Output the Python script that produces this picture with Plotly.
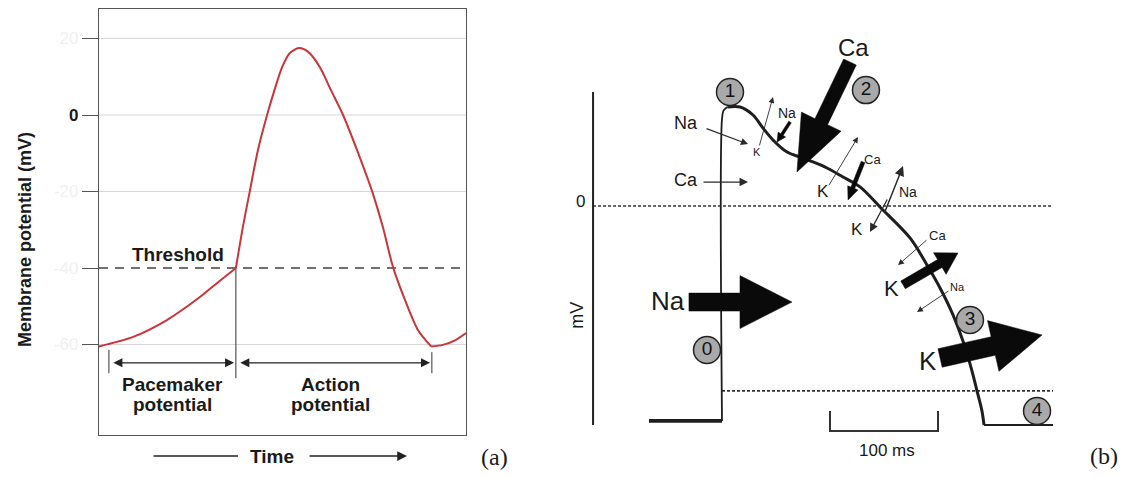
import plotly.graph_objects as go

# ---------------- Panel (a): pacemaker-cell action potential ----------------
# time in arbitrary units (0..100), membrane potential in mV
pm_time = [0, 9.3, 18.5, 27.5, 32.2, 37.3]
pm_mv = [-60.5, -58.0, -53.6, -47.6, -43.9, -40.0]
ap_time = [37.3, 39.2, 41.1, 43.3, 45.8, 48.0, 49.9, 52.0, 54.5, 57.0, 60.2,
           63.2, 66.5, 70.6, 74.4, 77.4, 80.1, 83.4, 86.9, 90.5]
ap_mv = [-40.0, -29.3, -19.9, -9.2, 0.0, 7.1, 12.5, 16.2, 17.5, 16.5, 12.5,
         6.5, 0.0, -9.9, -19.9, -29.5, -39.7, -48.4, -56.2, -60.5]
rec_time = [90.5, 93.7, 97.0, 100]
rec_mv = [-60.5, -60.1, -58.9, -57.0]
a_ticks = [20, 0, -20, -40, -60]
a_ticktext = ['20', '0', '-20', '-40', '-60']
a_grid = [20, 0, -20, -60]
threshold_mv = -40
threshold_time = 37.3
pm_start, ap_end = 2.7, 90.7

# ---------------- Panel (b): ventricular action potential ----------------
# time in ms (0 = upstroke), membrane potential in mV
rest_left_t = [-67.6, 0]
rest_left_mv = [-88.8, -88.8]
up_t = [0, 0, 1.5, 5.0]
up_mv = [-88.8, 36.0, 39.5, 40.9]
plat_t = [5.0, 16.7, 28.7, 38.0, 47.2, 60.2, 72.2, 84.3, 97.2, 112.0, 127.8,
          146.3, 174.1, 189.8, 201.9, 213.9, 223.1, 231.5, 236.1, 240.7, 242.6]
plat_mv = [40.9, 40.9, 37.6, 32.2, 27.3, 22.3, 20.2, 18.2, 15.7, 12.0, 7.9,
           -0.4, -13.2, -24.4, -33.9, -45.0, -55.8, -68.2, -76.4, -84.7, -90.5]
rest_right_t = [242.6, 306.5]
rest_right_mv = [-90.5, -90.5]
zero_line_t = [-119.4, 306.5]
thr_line_t = [0, 306.5]
thr_line_mv = -76.4
scale_bar_ms = [100, 200]
phase_labels = ['0', '1', '2', '3', '4']
phase_t = [-13.9, 7.4, 133.3, 229.6, 291.7]
phase_mv = [-59.5, 47.1, 47.9, -47.1, -84.7]

# ---------------- layout geometry ----------------
W, H = 1134, 478
A_X = [99, 466]      # px of frame (a)
A_Y = [9, 435]
A_XR = [0, 100]
A_YR = [(115 - 435) / 3.825, (115 - 9) / 3.825]
B_XPX = [560, 1134]
B_XR = [(560 - 722) / 1.08, (1134 - 722) / 1.08]
B_YR = [(206 - 478) / 2.42, (206 - 0) / 2.42]
SX = (B_XPX[1] - B_XPX[0]) / (B_XR[1] - B_XR[0])
SY = H / (B_YR[1] - B_YR[0])

RED = '#c9353a'
INK = '#1e1e1e'
FA = 'Liberation Sans, Arial, sans-serif'
FB = 'Liberation Sans, Arial, sans-serif'
FS = 'Liberation Serif, Times New Roman, serif'

fig = go.Figure()

# ----- panel (a) traces -----
for g in a_grid:
    fig.add_trace(go.Scatter(x=A_XR, y=[g, g], mode='lines',
                             line=dict(color='#d6d6d6', width=1),
                             xaxis='x', yaxis='y', hoverinfo='skip'))
fig.add_trace(go.Scatter(x=A_XR, y=[threshold_mv] * 2, mode='lines',
                         line=dict(color='#444', width=1.3, dash='9px,7px'),
                         xaxis='x', yaxis='y'))
fig.add_trace(go.Scatter(x=[threshold_time] * 2, y=[threshold_mv, -68.8], mode='lines',
                         line=dict(color='#333', width=1), xaxis='x', yaxis='y'))
fig.add_trace(go.Scatter(x=[pm_start] * 2, y=[-61.4, -67.5], mode='lines',
                         line=dict(color='#333', width=1), xaxis='x', yaxis='y'))
fig.add_trace(go.Scatter(x=[ap_end] * 2, y=[-62.0, -67.5], mode='lines',
                         line=dict(color='#333', width=1), xaxis='x', yaxis='y'))
for xs, ys in [(pm_time, pm_mv), (ap_time, ap_mv), (rec_time, rec_mv)]:
    fig.add_trace(go.Scatter(x=xs, y=ys, mode='lines',
                             line=dict(color=RED, width=2, shape='spline', smoothing=0.8),
                             xaxis='x', yaxis='y'))

# ----- panel (b) traces -----
def bline(xs, ys, w, dash=None, color=INK, shape='linear'):
    fig.add_trace(go.Scatter(x=xs, y=ys, mode='lines',
                             line=dict(color=color, width=w, dash=dash, shape=shape,
                                       smoothing=0.9),
                             xaxis='x2', yaxis='y2', cliponaxis=False))

bline(zero_line_t, [0, 0], 1.6, dash='3px,2px', color='#333')
bline(thr_line_t, [thr_line_mv] * 2, 1.6, dash='3px,2px', color='#333')
bline([-119.4, -119.4], [47.1, -90.5], 2, color='#222')
bline([scale_bar_ms[0], scale_bar_ms[0], scale_bar_ms[1], scale_bar_ms[1]],
      [-84.7, -93.0, -93.0, -84.7], 2, color='#333')
bline(rest_left_t, rest_left_mv, 3.6)
bline(up_t, up_mv, 1.8, shape='spline')
bline(plat_t, plat_mv, 3.0, shape='spline')
bline(rest_right_t, rest_right_mv, 2.2)


def fat_arrow(tail, tip, shaft, head_w, head_l):
    x0, y0 = tail[0] * SX, tail[1] * SY
    x1, y1 = tip[0] * SX, tip[1] * SY
    dx, dy = x1 - x0, y1 - y0
    L = (dx * dx + dy * dy) ** 0.5
    ux, uy = dx / L, dy / L
    nx, ny = -uy, ux
    bx, by = x1 - ux * head_l, y1 - uy * head_l
    pts = [(x0 + nx * shaft / 2, y0 + ny * shaft / 2),
           (bx + nx * shaft / 2, by + ny * shaft / 2),
           (bx + nx * head_w / 2, by + ny * head_w / 2),
           (x1, y1),
           (bx - nx * head_w / 2, by - ny * head_w / 2),
           (bx - nx * shaft / 2, by - ny * shaft / 2),
           (x0 - nx * shaft / 2, y0 - ny * shaft / 2)]
    pts.append(pts[0])
    fig.add_trace(go.Scatter(x=[p[0] / SX for p in pts], y=[p[1] / SY for p in pts],
                             mode='lines', fill='toself', fillcolor='#0a0a0a',
                             line=dict(width=0.5, color='#0a0a0a'),
                             xaxis='x2', yaxis='y2', cliponaxis=False))

# big ion-current arrows (tail, tip in ms / mV)
fat_arrow((118.5, 59.5), (69.4, 14.0), 14, 44, 56)     # Ca influx
fat_arrow((-30.6, -39.7), (64.8, -39.7), 18, 53, 52)   # Na influx
fat_arrow((201.9, -62.8), (296.3, -53.3), 19, 52, 50)  # K efflux (phase 3)
fat_arrow((167.6, -32.6), (218.5, -19.4), 9, 25, 21)   # K efflux (phase 2/3)
fat_arrow((130.6, 18.2), (116.7, 2.5), 4, 11, 13)      # small Ca
fat_arrow((63.0, 34.7), (50.9, 26.4), 3, 9, 9)         # small Na

# phase markers
fig.add_trace(go.Scatter(x=phase_t, y=phase_mv, mode='markers+text', text=phase_labels,
                         textposition='middle center',
                         textfont=dict(family=FB, size=19, color='#111'),
                         marker=dict(size=27, color='#a9a9a9',
                                     line=dict(color='#222', width=1.5)),
                         xaxis='x2', yaxis='y2', cliponaxis=False))

annotations = []

def thin_arrow(tail, tip, w=1.1):
    annotations.append(dict(x=tip[0], y=tip[1], ax=tail[0], ay=tail[1],
                            xref='x2', yref='y2', axref='x2', ayref='y2', text='',
                            showarrow=True, arrowhead=2, arrowsize=1.3,
                            arrowwidth=w, arrowcolor='#2a2a2a'))

thin_arrow((-15.7, 32.2), (24.1, 25.6))      # Na
thin_arrow((-18.5, 9.9), (24.1, 9.9), 1.3)   # Ca
thin_arrow((34.3, 24.4), (47.2, 45.0), 0.9)  # K out
thin_arrow((98.1, 7.9), (125.9, 28.5), 0.9)  # K out
thin_arrow((150.0, -3.3), (167.6, 16.5), 1.5)  # Na
thin_arrow((153.7, 3.3), (137.0, -10.7), 1.3)  # K
thin_arrow((190.7, -13.6), (163.0, -24.4), 0.9)  # Ca
thin_arrow((211.1, -34.7), (180.6, -43.8), 0.9)  # Na

def btext(t, x, y, size, angle=0, font=FB):
    annotations.append(dict(x=x, y=y, xref='x2', yref='y2', text=t, showarrow=False,
                            textangle=angle, xanchor='center', yanchor='middle',
                            font=dict(family=font, size=size, color='#1a1a1a')))

btext('Ca', 121.3, 65.7, 24)
btext('Na', -33.3, 34.3, 18)
btext('K', 32.4, 22.3, 11)
btext('Na', 60.2, 38.4, 14)
btext('Ca', -33.3, 10.7, 18)
btext('K', 93.5, 5.8, 17)
btext('Ca', 139.8, 19.4, 13)
btext('Na', 172.2, 5.8, 14)
btext('K', 125.0, -9.9, 17)
btext('Ca', 199.1, -12.0, 13)
btext('K', 157.4, -33.9, 22)
btext('Na', 217.6, -33.5, 11)
btext('Na', -50.0, -39.3, 26)
btext('K', 190.7, -64.0, 26)
btext('0', -130.6, 1.8, 17)
btext('mV', -134.3, -45.0, 18, angle=-90)
btext('100 ms', 152.8, -101.2, 17)

# ----- panel (a) annotations -----
def a_arrow(tail, tip, side='end', head=2, w=1.2):
    annotations.append(dict(x=tip[0], y=tip[1], ax=tail[0], ay=tail[1],
                            xref='x', yref='y', axref='x', ayref='y', text='',
                            showarrow=True, arrowhead=head, startarrowhead=head,
                            arrowside=side, arrowsize=1.5, startarrowsize=1.5,
                            arrowwidth=w, arrowcolor='#222'))

a_arrow((3.5, -64.8), (36.8, -64.8), side='end+start')
a_arrow((38.1, -64.8), (90.2, -64.8), side='end+start')

def ptext(t, px, py, size, family=FA, angle=0):
    annotations.append(dict(x=px / W, y=1 - py / H, xref='paper', yref='paper', text=t,
                            showarrow=False, xanchor='center', yanchor='middle',
                            textangle=angle, font=dict(family=family, size=size,
                                                       color='#1a1a1a')))

ptext('<b>Threshold</b>', 178, 254, 19)
ptext('<b>Pacemaker</b>', 172, 384, 19)
ptext('<b>potential</b>', 172, 404, 19)
ptext('<b>Action</b>', 330, 384, 19)
ptext('<b>potential</b>', 330, 404, 19)

# "Time" axis label with its arrow (below the frame, paper coordinates)
TY = 1 - 456 / H
ptext('<b>Time</b>', 272, 456, 19)
annotations.append(dict(x=238 / W, y=TY, xref='paper', yref='paper', text='',
                        showarrow=True, arrowhead=0, ax=-(238 - 152), ay=0,
                        arrowwidth=1.3, arrowcolor='#222'))
annotations.append(dict(x=407 / W, y=TY, xref='paper', yref='paper', text='',
                        showarrow=True, arrowhead=2, arrowsize=1.5, ax=-(407 - 308), ay=0,
                        arrowwidth=1.3, arrowcolor='#222'))

ptext('<b>Membrane potential (mV)</b>', 25, 240, 18, angle=-90)
ptext('(a)', 494, 457, 24, family=FS)
ptext('(b)', 1104, 456, 24, family=FS)

ticktext = ['<b>%s</b>' % t if t == '0' else
            '<span style="color:#f0f0f0">%s</span>' % t for t in a_ticktext]

fig.update_layout(
    width=W, height=H, margin=dict(l=0, r=0, t=0, b=0),
    paper_bgcolor='white', plot_bgcolor='white', showlegend=False,
    annotations=annotations,
    xaxis=dict(domain=[A_X[0] / W, A_X[1] / W], range=A_XR, showgrid=False,
               zeroline=False, showticklabels=False, ticks='', showline=True,
               mirror=True, linecolor='#555', linewidth=1.2, fixedrange=True),
    yaxis=dict(domain=[1 - A_Y[1] / H, 1 - A_Y[0] / H], range=A_YR, showgrid=False,
               zeroline=False, tickvals=a_ticks, ticktext=ticktext, ticks='outside',
               ticklen=16, tickcolor='#555', tickwidth=1.2,
               tickfont=dict(family=FA, size=17, color='#1a1a1a'),
               showline=True, mirror=True, linecolor='#555', linewidth=1.2,
               fixedrange=True),
    xaxis2=dict(domain=[B_XPX[0] / W, B_XPX[1] / W], range=B_XR, visible=False,
                fixedrange=True),
    yaxis2=dict(domain=[0, 1], range=B_YR, visible=False, anchor='x2', fixedrange=True),
)

fig.write_html('out.html', config={'displayModeBar': False},
               post_script="document.body.style.margin='0';document.body.style.overflow='hidden';")
